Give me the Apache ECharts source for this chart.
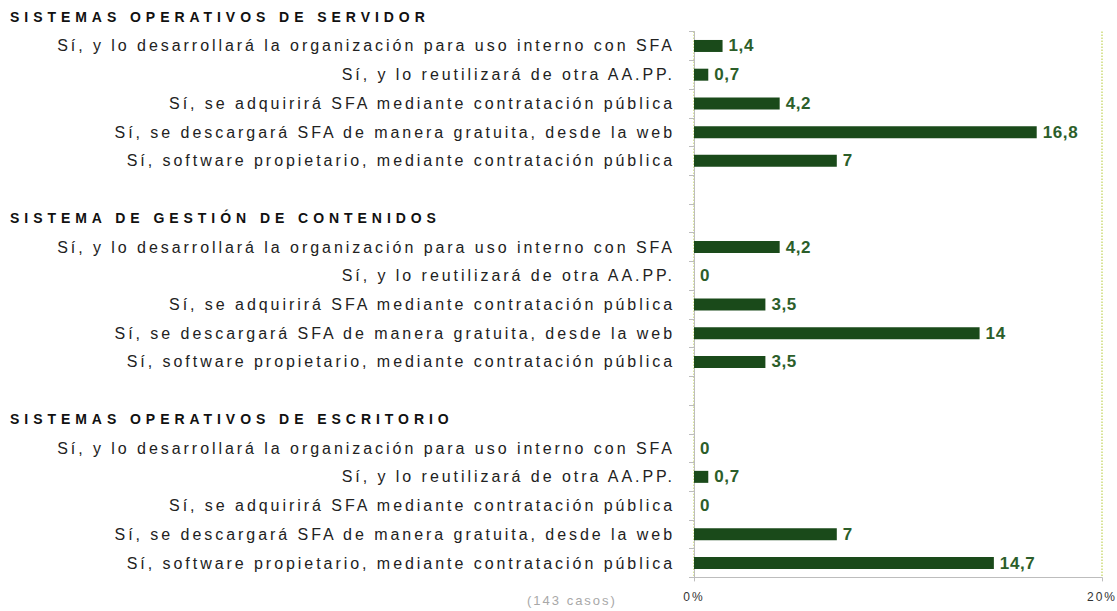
<!DOCTYPE html>
<html>
<head>
<meta charset="utf-8">
<script src="https://cdn.jsdelivr.net/npm/echarts@6/dist/echarts.min.js"></script>
<style>
  html, body { margin: 0; padding: 0; background: #fff; }
  #chart { width: 1117px; height: 611px; }
  /* spaced-out lettering of the chart texts */
  #chart svg text { letter-spacing: 2.95px; }
  #chart svg text[style*="bold"][style*="14px"] { letter-spacing: 4.95px; }
  #chart svg text[style*="bold"][style*="17px"] { letter-spacing: 0.6px; }
  #chart svg text[style*="12px"] { letter-spacing: 2px; }
  #chart svg text[style*="13px"] { letter-spacing: 2px; }
</style>
</head>
<body>
<div id="chart"></div>
<script>
// Groups of the survey, each with the same five answers
const groupTitles = [
  'SISTEMAS OPERATIVOS DE SERVIDOR',
  'SISTEMA DE GESTIÓN DE CONTENIDOS',
  'SISTEMAS OPERATIVOS DE ESCRITORIO'
];
const answers = [
  'Sí, y lo desarrollará la organización para uso interno con SFA',
  'Sí, y lo reutilizará de otra AA.PP.',
  'Sí, se adquirirá SFA mediante contratación pública',
  'Sí, se descargará SFA de manera gratuita, desde la web',
  'Sí, software propietario, mediante contratación pública'
];
// Percentages per group, in the order of `answers`
const servidor = [1.4, 0.7, 4.2, 16.8, 7];
const contenidos = [4.2, 0, 3.5, 14, 3.5];
const escritorio = [0, 0.7, 0, 7, 14.7];
const xTicks = [0, 20];
const note = '(143 casos)';

// Category rows: first group's answers, then a spacer + heading before each next group
const categories = [];
const values = [];
[servidor, contenidos, escritorio].forEach(function (vals, g) {
  if (g > 0) {
    categories.push('');
    values.push('-');
    categories.push(groupTitles[g]);
    values.push('-');
  }
  answers.forEach(function (a, i) {
    categories.push(a);
    values.push(vals[i]);
  });
});
const isHeading = function (v) { return groupTitles.indexOf(v) >= 0; };

const chart = echarts.init(document.getElementById('chart'), null, { renderer: 'svg' });
const FONT = '"Liberation Sans", Arial, sans-serif';

chart.setOption({
  animation: false,
  title: {
    text: groupTitles[0],
    left: 10,
    top: 10,
    padding: 0,
    textStyle: { fontFamily: FONT, fontSize: 14, fontWeight: 'bold', color: '#111' }
  },
  graphic: [{
    type: 'text',
    left: 527,
    top: 594,
    style: { text: note, fontFamily: FONT, fontSize: 13, fill: '#a8a8a8' }
  }],
  grid: { left: 694, right: 12, top: 31.6, bottom: 33.6, containLabel: false },
  xAxis: {
    type: 'value',
    min: xTicks[0],
    max: xTicks[xTicks.length - 1],
    interval: xTicks[1] - xTicks[0],
    axisLine: { show: true, lineStyle: { color: '#bdbdbd', width: 1 } },
    axisTick: { show: true, length: 4, lineStyle: { color: '#bdbdbd' } },
    axisLabel: { formatter: '{value}%', fontFamily: FONT, fontSize: 12, color: '#333', margin: 14 },
    splitLine: { show: true, lineStyle: { color: '#cddc78', type: 'dotted', width: 1.5 } }
  },
  yAxis: [{
    // answer labels, right-aligned against the axis
    type: 'category',
    inverse: true,
    data: categories,
    axisLine: { show: true, lineStyle: { color: '#bdbdbd', width: 1 } },
    axisTick: { show: true, length: 5, lineStyle: { color: '#bdbdbd' } },
    axisLabel: {
      interval: 0,
      margin: 19,
      fontFamily: FONT,
      fontSize: 16,
      color: '#222',
      formatter: function (v) { return isHeading(v) ? '' : v; }
    }
  }, {
    // group headings, left-aligned at the page margin
    type: 'category',
    inverse: true,
    position: 'left',
    data: categories,
    axisLine: { show: false },
    axisTick: { show: false },
    splitLine: { show: false },
    axisLabel: {
      interval: 0,
      margin: 684,
      align: 'left',
      fontFamily: FONT,
      fontSize: 14,
      fontWeight: 'bold',
      color: '#111',
      formatter: function (v) { return isHeading(v) ? v : ''; }
    }
  }],
  series: [{
    type: 'bar',
    yAxisIndex: 0,
    data: values,
    barWidth: 12,
    itemStyle: { color: '#1a4a1a' },
    label: {
      show: true,
      position: 'right',
      distance: 6,
      fontFamily: FONT,
      fontSize: 17,
      fontWeight: 'bold',
      color: '#2c5e2a',
      formatter: function (p) { return String(p.value).replace('.', ','); }
    }
  }]
});
</script>
</body>
</html>
